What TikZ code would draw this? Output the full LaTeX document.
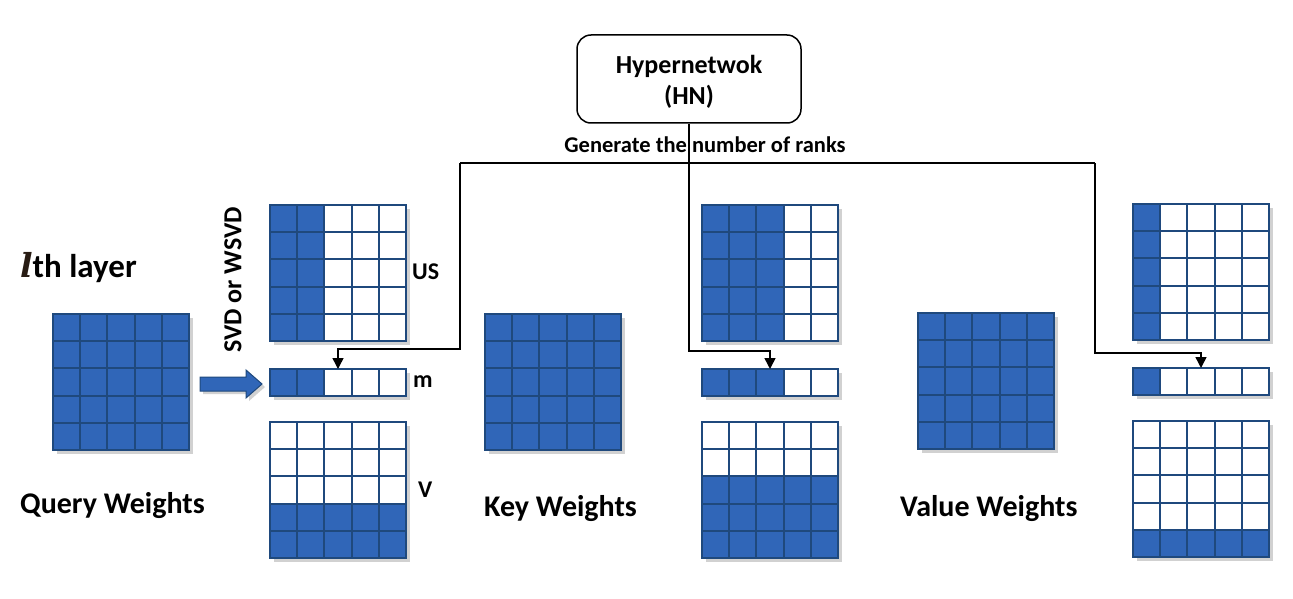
\documentclass[tikz,border=0pt]{standalone}
\usepackage{fontspec}
\setmainfont{Carlito}
\newfontfamily\lfont{DejaVu Serif}
\usetikzlibrary{arrows.meta}
\definecolor{cellblue}{RGB}{48,102,184}
\definecolor{gridline}{RGB}{31,73,125}
\definecolor{lcol}{RGB}{40,28,20}
\tikzset{
  gridbox/.style={draw=gridline, line width=2pt, inner sep=0pt, outer sep=0pt, fill=none},
  gline/.style={draw=gridline, line width=2pt},
  conn/.style={draw=black, line width=1.5pt, -{Triangle[length=11pt,width=11pt]}},
  plainline/.style={draw=black, line width=1.5pt},
  lbl/.style={font=\fontsize{30}{36}\selectfont\bfseries, inner sep=0pt, anchor=west},
  small/.style={font=\fontsize{24}{29}\selectfont\bfseries, inner sep=0pt, anchor=west},
}
\newcommand\mygrid[5]{%
  \fill[black,opacity=0.18] ({#2+4},{#3+4}) rectangle ({#2+140},{#3+4+#4*27.2});
  \fill[white] (#2,#3) rectangle ({#2+136},{#3+#4*27.2});
  \foreach \r in {1,...,#4}{\foreach \c in {1,...,5}{%
    \pgfmathtruncatemacro\f{#5}%
    \ifnum\f=1 \fill[cellblue] ({#2+(\c-1)*27.2},{#3+(\r-1)*27.2}) rectangle ++(27.2,27.2);\fi
  }}
  \foreach \i in {1,...,4}{\draw[gline] ({#2+\i*27.2},#3) -- ++(0,{#4*27.2});}
  \ifnum#4>1 \foreach \j in {1,...,4}{\draw[gline] (#2,{#3+\j*27.2}) -- ++(136,0);}\fi
  \node[gridbox, minimum width=136pt, minimum height={#4*27.2pt}, anchor=north west] (#1) at (#2,#3) {};
}
\begin{document}
\begin{tikzpicture}[x=1pt,y=-1pt]
\useasboundingbox (0,0) rectangle (1293,599);
\fill[white] (0,0) rectangle (1293,599);

% input matrices
\mygrid{qw}{53}{314}{5}{1}
\mygrid{kw}{485}{314}{5}{1}
\mygrid{vw}{918}{313}{5}{1}

% query decomposition
\mygrid{qus}{270}{205}{5}{\c<3}
\mygrid{qm}{270}{369}{1}{\c<3}
\mygrid{qv}{270}{422}{5}{\r>3}
% key decomposition
\mygrid{kus}{702}{205}{5}{\c<4}
\mygrid{km}{702}{369}{1}{\c<4}
\mygrid{kv}{702}{422}{5}{\r>2}
% value decomposition
\mygrid{vus}{1133}{204}{5}{\c<2}
\mygrid{vm}{1133}{368}{1}{\c<2}
\mygrid{vv}{1133}{421}{5}{\r>4}

% block arrow
\fill[black,opacity=0.18] (203,380) -- (249,380) -- (249,373) -- (265,387) -- (249,401) -- (249,394) -- (203,394) -- cycle;
\filldraw[fill=cellblue, draw=gridline, line width=1pt, line join=miter] (200,377) -- (246,377) -- (246,370) -- (262,384) -- (246,398) -- (246,391) -- (200,391) -- cycle;

% hypernetwork
\node[draw=black, line width=1.5pt, rounded corners=14pt, minimum width=224pt, minimum height=88pt, inner sep=0pt, font=\fontsize{26}{31}\selectfont\bfseries] (hn) at (689,79) {\raisebox{-4pt}[\height][\depth]{\begin{tabular}{@{}c@{}}Hypernetwok\\(HN)\end{tabular}}};
\node[font=\fontsize{22.5}{27}\selectfont\bfseries, inner sep=0pt] (gen) at (705,145) {Generate the number of ranks};

\coordinate (jl) at (460,163);
\coordinate (jr) at (1095,163);
\coordinate (bl) at (460,349);
\coordinate (bk) at (688,351);
\coordinate (br) at (1095,353);
\draw[plainline] (jl) -- (jr);
\draw[conn] (hn.south) -- (hn.south |- bk) -| (km.north);
\draw[conn] (jl) -- (bl) -| (qm.north);
\draw[conn] (jr) -- (br) -| (vm.north);

% labels
\node[lbl, font=\fontsize{33}{40}\selectfont\bfseries] (layer) at (20,268) {\textcolor{lcol}{\lfont\bfseries\itshape l}th layer};
\node[lbl] (qlab) at (20,506) {Query Weights};
\node[lbl] (klab) at (484,509) {Key Weights};
\node[lbl] (vlab) at (900,509) {Value Weights};
\node[small] (uslab) at (412,272) {US};
\node[small] (mlab) at (413,382) {m};
\node[small] (vlabel) at (418,490) {V};
\node[font=\fontsize{26}{31}\selectfont\bfseries, inner sep=0pt, rotate=90] (svd) at (233,280) {SVD or WSVD};
\end{tikzpicture}
\end{document}
